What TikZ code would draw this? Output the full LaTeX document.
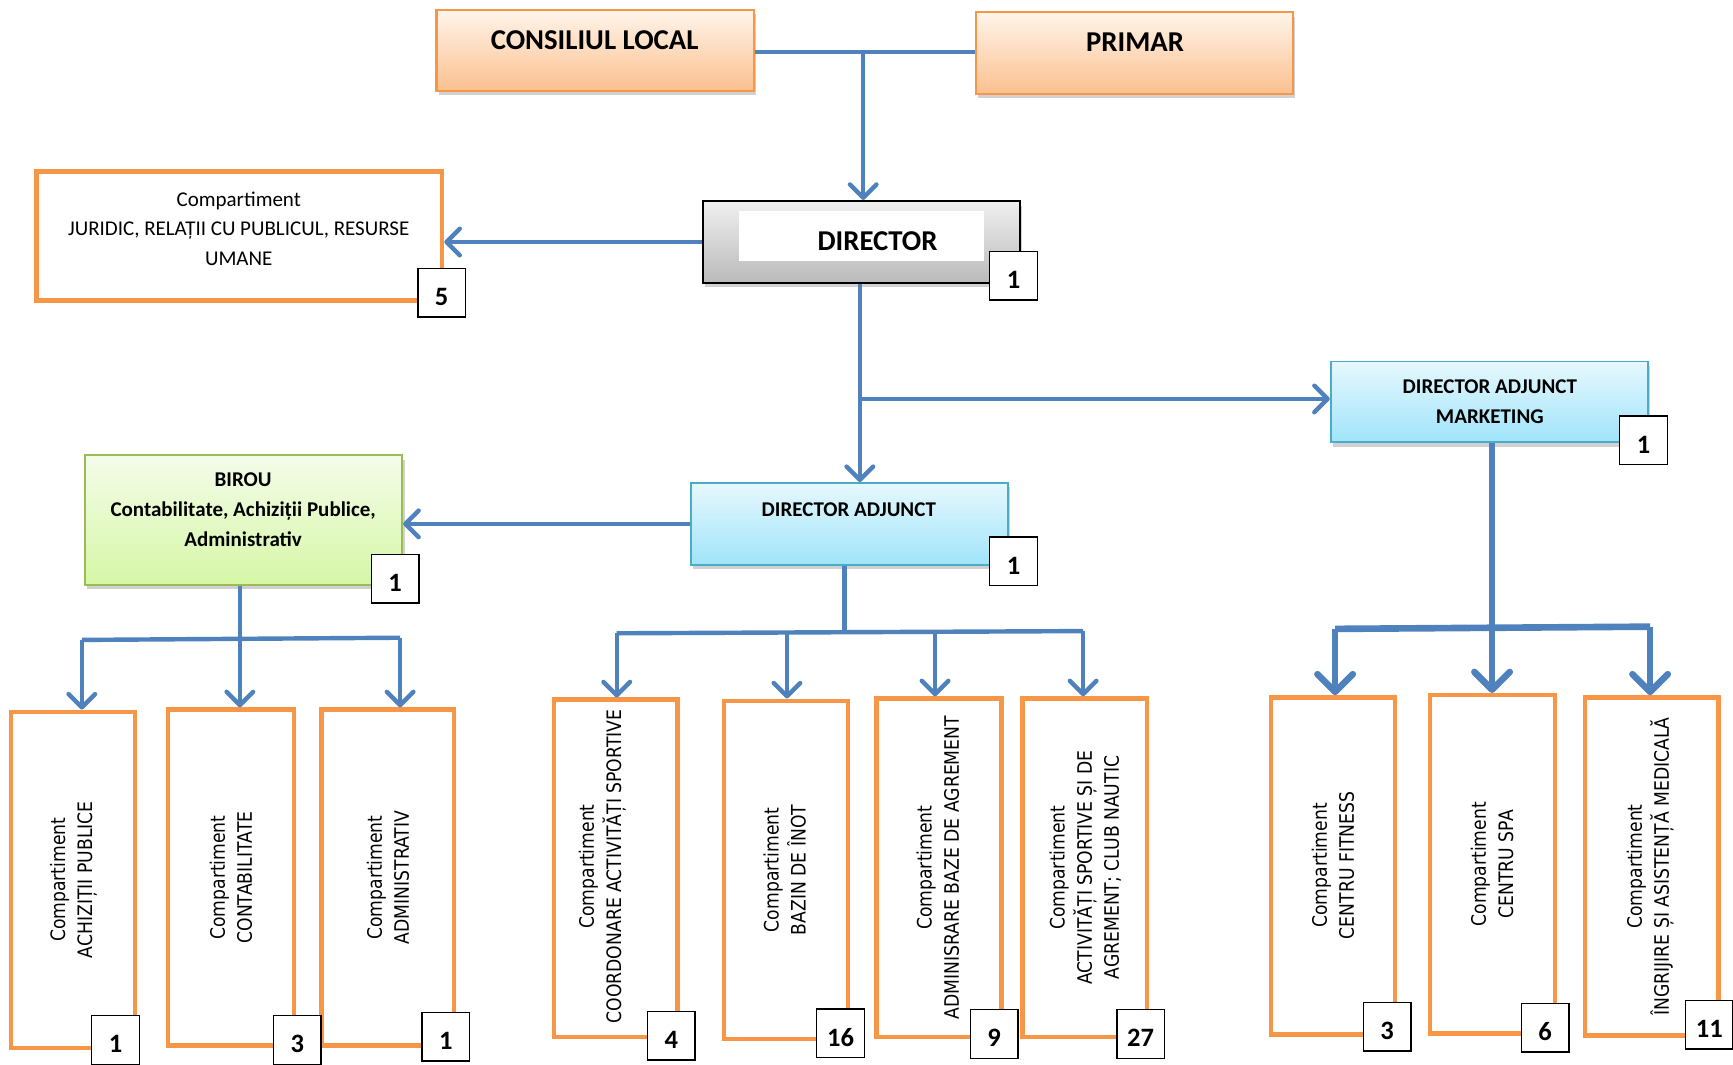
\documentclass[tikz,border=0pt]{standalone}
\usepackage{fontspec}
\setmainfont{Carlito}
\newfontfamily\vfont[FakeStretch=0.865]{DejaVu Sans}
\usetikzlibrary{arrows.meta,shadows}
\definecolor{cblue}{HTML}{4F81BD}
\definecolor{corange}{HTML}{F79646}
\definecolor{ctealb}{HTML}{4BACC6}
\definecolor{cgreenb}{HTML}{9BBB59}
\begin{document}
\begin{tikzpicture}[x=1pt,y=-1pt,
  shd/.style={drop shadow={shadow xshift=2pt,shadow yshift=-4pt,opacity=.3,fill=black!60}},
  orangetitle/.style={shd,draw=corange,line width=2pt,top color=orange!8,bottom color={rgb,255:red,251;green,192;blue,143},inner sep=0pt},
  graytitle/.style={shd,draw=black,line width=2.2pt,top color=black!6,bottom color=black!27,inner sep=0pt},
  cyantitle/.style={shd,draw=ctealb,line width=1.6pt,top color={rgb,255:red,230;green,248;blue,254},bottom color={rgb,255:red,160;green,228;blue,250},inner sep=0pt},
  greentitle/.style={shd,draw=cgreenb,line width=1.6pt,top color={rgb,255:red,244;green,252;blue,234},bottom color={rgb,255:red,214;green,247;blue,166},inner sep=0pt},
  cbox/.style={draw=corange,line width=4pt,fill=white,inner sep=0pt},
  badge/.style={draw=black,line width=1.3pt,fill=white,minimum width=43pt,minimum height=44pt,inner sep=0pt,text height=23pt,text depth=0pt,font=\fontsize{24}{24}\selectfont\bfseries},
  bigtitle/.style={inner sep=0pt,font=\fontsize{26}{30}\selectfont\bfseries},
  midtitle/.style={inner sep=0pt,align=center,font=\fontsize{19}{27}\selectfont\bfseries},
  regtext/.style={inner sep=0pt,align=center,font=\fontsize{19}{26.5}\selectfont},
  vtext/.style={rotate=90,inner sep=0pt,align=center,font=\vfont\fontsize{18}{24.5}\selectfont},
  conn/.style={draw=cblue,line width=4pt},
  arr/.style={conn,-{Straight Barb[length=12pt,width=24pt,round]}},
  conn2/.style={draw=cblue,line width=6pt},
  arr2/.style={conn2,-{Straight Barb[length=16pt,width=32pt,round]}}
]
\useasboundingbox (0,0) rectangle (1568,963);

% ---- top level boxes
\node[orangetitle,minimum width=287pt,minimum height=73pt] (cl) at (538.5,45.5) {};
\node[bigtitle] (clt) at (538,36) {CONSILIUL LOCAL};
\node[orangetitle,minimum width=287pt,minimum height=74pt] (pr) at (1026.5,48) {};
\node[bigtitle] (prt) at (1027,38) {PRIMAR};

\node[graytitle,minimum width=287pt,minimum height=74pt] (dir) at (779.5,219) {};
\node[fill=white,minimum width=221pt,minimum height=45pt,inner sep=0pt] (dirw) at (779.5,213.5) {};
\node[bigtitle] (dirt) at (794,218) {DIRECTOR};

\node[cbox,minimum width=367pt,minimum height=117pt] (jur) at (216.5,213.5) {};
\node[regtext] (jurt) at (216,207) {Compartiment\\JURIDIC, RELAȚII CU PUBLICUL, RESURSE\\UMANE};

\node[cyantitle,minimum width=287pt,minimum height=73pt] (dam) at (1347.5,363.5) {};
\node[midtitle] (damt) at (1348,363.5) {DIRECTOR ADJUNCT\\MARKETING};

\node[cyantitle,minimum width=287pt,minimum height=74pt] (da) at (768.5,474) {};
\node[midtitle] (dat) at (768,461) {DIRECTOR ADJUNCT};

\node[greentitle,minimum width=287pt,minimum height=117pt] (bir) at (220.5,470.5) {};
\node[midtitle] (birt) at (220,461) {BIROU\\Contabilitate, Achiziții Publice,\\Administrativ};

% ---- compartment boxes
\node[cbox,minimum width=112pt,minimum height=304pt] (a1) at (66,796) {};
\node[cbox,minimum width=114pt,minimum height=304pt] (a2) at (209,794) {};
\node[cbox,minimum width=120pt,minimum height=304pt] (a3) at (351,794) {};
\node[cbox,minimum width=112pt,minimum height=305pt] (b1) at (557,785.5) {};
\node[cbox,minimum width=112pt,minimum height=306pt] (b2) at (711,787) {};
\node[cbox,minimum width=113pt,minimum height=306pt] (b3) at (849.5,785) {};
\node[cbox,minimum width=113pt,minimum height=306pt] (b4) at (981.5,785) {};
\node[cbox,minimum width=112pt,minimum height=305pt] (c1) at (1206,783.5) {};
\node[cbox,minimum width=113pt,minimum height=306pt] (c2) at (1350.5,782) {};
\node[cbox,minimum width=121pt,minimum height=306pt] (c3) at (1494.5,784) {};

\node[vtext] (a1t) at (66.5,796) {Compartiment\\ACHIZIȚII PUBLICE};
\node[vtext] (a2t) at (209,794) {Compartiment\\CONTABILITATE};
\node[vtext] (a3t) at (351,794) {Compartiment\\ADMINISTRATIV};
\node[vtext] (b1t) at (545,784) {Compartiment\\COORDONARE ACTIVITĂȚI SPORTIVE};
\node[vtext] (b2t) at (710,787) {Compartiment\\BAZIN DE ÎNOT};
\node[vtext] (b3t) at (848.5,785) {Compartiment\\ADMINISRARE BAZE DE AGREMENT};
\node[vtext] (b4t) at (982,785) {Compartiment\\ACTIVITĂȚI SPORTIVE ȘI DE\\AGREMENT; CLUB NAUTIC};
\node[vtext] (c1t) at (1206,783) {Compartiment\\CENTRU FITNESS};
\node[vtext] (c2t) at (1350,782) {Compartiment\\CENTRU SPA};
\node[vtext] (c3t) at (1493,784) {Compartiment\\ÎNGRIJIRE ȘI ASISTENȚĂ MEDICALĂ};

% ---- connectors
\coordinate (j0) at (781,47);
\draw[conn] (cl.east |- j0) -- (pr.west |- j0);
\draw[arr] (j0) -- (dir.north -| j0);
\draw[arr] (dir.west) -- (jur.east |- dir.west);

\coordinate (j1) at (778,361);
\draw[arr] (dir.south -| j1) -- (da.north -| j1);
\draw[arr] (j1) -- (dam.west |- j1);
\draw[arr] (da.west) -- (bir.east |- da.west);

% BIROU group
\coordinate (k0) at (217,578);
\coordinate (kl) at (74,579);
\coordinate (kr) at (362,577);
\draw[conn] (bir.south -| k0) -- (k0);
\draw[conn] (kl) -- (kr);
\draw[arr] (kl) -- (a1.north -| kl);
\draw[arr] (k0) -- (a2.north -| k0);
\draw[arr] (kr) -- (a3.north -| kr);

% DIRECTOR ADJUNCT group
\coordinate (m0) at (764,572);
\coordinate (ml) at (558,573);
\coordinate (mr) at (980,571);
\coordinate (m2) at (712,572);
\coordinate (m3) at (846,572);
\draw[conn] (da.south -| m0) -- (m0);
\draw[conn] (ml) -- (mr);
\draw[arr] (ml) -- (b1.north -| ml);
\draw[arr] (m2) -- (b2.north -| m2);
\draw[arr] (m3) -- (b3.north -| m3);
\draw[arr] (mr) -- (b4.north -| mr);

% MARKETING group
\coordinate (n0) at (1350,568);
\coordinate (nl) at (1208,569);
\coordinate (nr) at (1493,567);
\draw[conn2] (dam.south -| n0) -- (n0);
\draw[conn2] (nl) -- (nr);
\draw[arr2] (nl) -- (c1.north -| nl);
\draw[arr2] (n0) -- (c2.north -| n0);
\draw[arr2] (nr) -- (c3.north -| nr);

% ---- badges
\node[badge] (bdir) at (917,249.5) {1};
\node[badge] (bjur) at (399.5,265) {5};
\node[badge] (bdam) at (1487,398.5) {1};
\node[badge] (bda) at (917,508) {1};
\node[badge] (bbir) at (357.5,523.5) {1};
\node[badge] (ba1) at (104.5,941) {1};
\node[badge] (ba2) at (269,941) {3};
\node[badge] (ba3) at (403.5,938) {1};
\node[badge] (bb1) at (607.5,937) {4};
\node[badge] (bb2) at (760.5,935) {16};
\node[badge] (bb3) at (899.5,935.5) {9};
\node[badge] (bb4) at (1032,935.5) {27};
\node[badge] (bc1) at (1255,929) {3};
\node[badge] (bc2) at (1398,930) {6};
\node[badge] (bc3) at (1546.5,927) {11};
\end{tikzpicture}
\end{document}
